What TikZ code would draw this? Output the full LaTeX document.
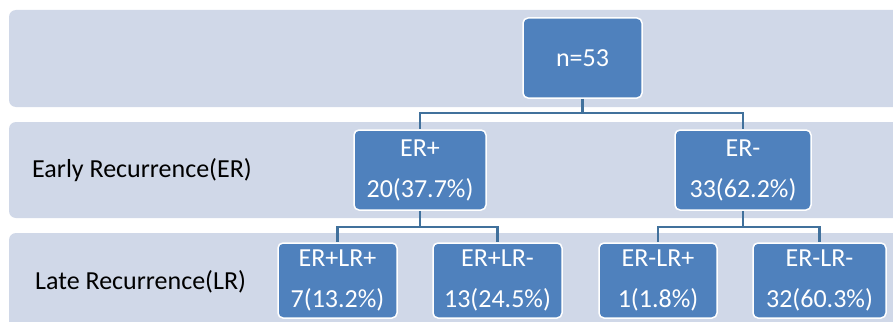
\documentclass[tikz,border=0pt]{standalone}
\usepackage{fontspec}
\setmainfont{Carlito}
\usetikzlibrary{positioning}
\definecolor{bandc}{HTML}{D0D8E8}
\definecolor{boxc}{HTML}{4F81BD}
\definecolor{linec}{HTML}{41719C}
\tikzset{
  band/.style={fill=bandc, draw=none, rounded corners=7pt},
  box/.style={rectangle, fill=boxc, draw=white, line width=1.5pt, rounded corners=5pt,
    text=white, align=center, inner sep=0pt, font=\fontsize{26}{41}\selectfont},
  conn/.style={draw=linec, line width=2.5pt},
  lbl/.style={anchor=west, inner sep=0pt, text=black, font=\fontsize{26}{30}\selectfont}
}
\begin{document}
\begin{tikzpicture}[x=1pt,y=-1pt]
\useasboundingbox (0,0) rectangle (893,321);
\clip (0,0) rectangle (893,321);
\fill[white] (0,0) rectangle (893,321);
% bands
\path[band] (9,10) rectangle (910,107);
\path[band] (9,122) rectangle (910,218);
\path[band] (9,233) rectangle (910,340);
% labels
\node[lbl] (lER) at (32,170) {Early Recurrence(ER)};
\node[lbl] (lLR) at (35,282) {Late Recurrence(LR)};
% boxes
\node[box, minimum width=119pt, minimum height=80pt] (root) at (582.5,58) {n=53};
\node[box, minimum width=132pt, minimum height=80pt] (erp) at (420,170) {ER+\\20(37.7\%)};
\node[box, minimum width=136pt, minimum height=80pt] (erm) at (743,170) {ER-\\33(62.2\%)};
\node[box, minimum width=119pt, minimum height=75pt] (pp) at (337.5,280.5) {ER+LR+\\7(13.2\%)};
\node[box, minimum width=129pt, minimum height=75pt] (pm) at (497.5,280.5) {ER+LR-\\13(24.5\%)};
\node[box, minimum width=118pt, minimum height=75pt] (mp) at (658,280.5) {ER-LR+\\1(1.8\%)};
\node[box, minimum width=133pt, minimum height=75pt] (mm) at (819.5,280.5) {ER-LR-\\32(60.3\%)};
% junctions
\coordinate (j1) at (582.5,113);
\coordinate (j2) at (420,227);
\coordinate (j3) at (743,227);
\draw[conn] (root.south) -- (j1) -| (erp.north);
\draw[conn] (j1) -| (erm.north);
\draw[conn] (erp.south) -- (j2) -| (pp.north);
\draw[conn] (j2) -| (pm.north);
\draw[conn] (erm.south) -- (j3) -| (mp.north);
\draw[conn] (j3) -| (mm.north);
\end{tikzpicture}
\end{document}
